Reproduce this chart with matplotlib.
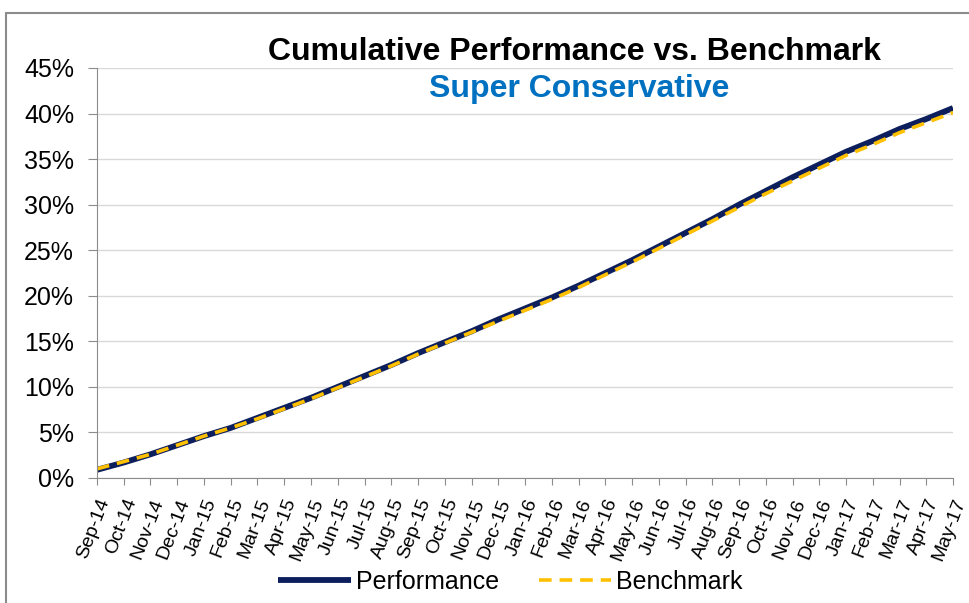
import numpy as np
import matplotlib.pyplot as plt
from matplotlib.patches import Rectangle

plt.rcParams['font.family'] = ['Liberation Sans', 'DejaVu Sans']

# months shown on the x axis
months = ['Sep-14', 'Oct-14', 'Nov-14', 'Dec-14', 'Jan-15', 'Feb-15', 'Mar-15', 'Apr-15',
          'May-15', 'Jun-15', 'Jul-15', 'Aug-15', 'Sep-15', 'Oct-15', 'Nov-15', 'Dec-15',
          'Jan-16', 'Feb-16', 'Mar-16', 'Apr-16', 'May-16', 'Jun-16', 'Jul-16', 'Aug-16',
          'Sep-16', 'Oct-16', 'Nov-16', 'Dec-16', 'Jan-17', 'Feb-17', 'Mar-17', 'Apr-17',
          'May-17']

# cumulative returns in %
performance = [0.9, 1.7, 2.6, 3.6, 4.6, 5.5, 6.6, 7.7, 8.8, 10.0, 11.2, 12.4, 13.7,
               14.9, 16.1, 17.4, 18.6, 19.8, 21.1, 22.5, 23.9, 25.4, 26.9, 28.4, 30.0,
               31.5, 33.0, 34.4, 35.8, 37.0, 38.3, 39.4, 40.6]
benchmark = [1.0, 1.8, 2.6, 3.6, 4.6, 5.5, 6.5, 7.6, 8.7, 9.9, 11.1, 12.3, 13.6,
             14.8, 16.0, 17.2, 18.4, 19.6, 20.9, 22.3, 23.7, 25.2, 26.7, 28.2, 29.7,
             31.2, 32.6, 34.0, 35.4, 36.6, 37.9, 39.0, 40.1]

yticks = [0, 5, 10, 15, 20, 25, 30, 35, 40, 45]

fig = plt.figure(figsize=(9.69, 6.03), dpi=100)
ax = fig.add_axes([0.1001, 0.2073, 0.8834, 0.680])

x = np.arange(len(months))
ax.plot(x, performance, color='#0c1f5c', lw=4.2, solid_capstyle='butt', label='Performance')
ax.plot(x, benchmark, color='#ffc000', lw=2.6, ls=(0, (3.5, 2.2)), label='Benchmark')

ax.set_xlim(0, len(months) - 1)
ax.set_ylim(0, 45)
ax.set_yticks(yticks)
ax.set_yticklabels([f'{t}%' for t in yticks], fontsize=18)
ax.set_xticks(x)
ax.set_xticklabels(months, rotation=69, ha='right', rotation_mode='anchor', fontsize=14)

ax.grid(axis='y', color='#d9d9d9', lw=1)
ax.set_axisbelow(True)
for s in ['top', 'right']:
    ax.spines[s].set_visible(False)
for s in ['left', 'bottom']:
    ax.spines[s].set_color('#8c8c8c')
ax.tick_params(axis='y', color='#8c8c8c', length=6.5, direction='out', pad=10)
ax.tick_params(axis='x', color='#8c8c8c', length=5, direction='out', pad=8)

fig.text(0.593, 1 - 52.5 / 603, 'Cumulative Performance vs. Benchmark', ha='center', va='center',
         fontsize=23, fontweight='bold', color='black')
fig.text(0.598, 1 - 89 / 603, 'Super Conservative', ha='center', va='center',
         fontsize=23, fontweight='bold', color='#0070c0')

fig.legend(loc='center', bbox_to_anchor=(0.527, 0.035), ncol=2, frameon=False,
           fontsize=18, handlelength=2.9, columnspacing=1.6, handletextpad=0.2)

fig.patches.append(Rectangle((0.006, -0.01), 1.1, 1 - 13 / 603 + 0.01, transform=fig.transFigure,
                             fill=False, edgecolor='#8c8c8c', lw=1.5))

fig.savefig('out.png', dpi=100)
